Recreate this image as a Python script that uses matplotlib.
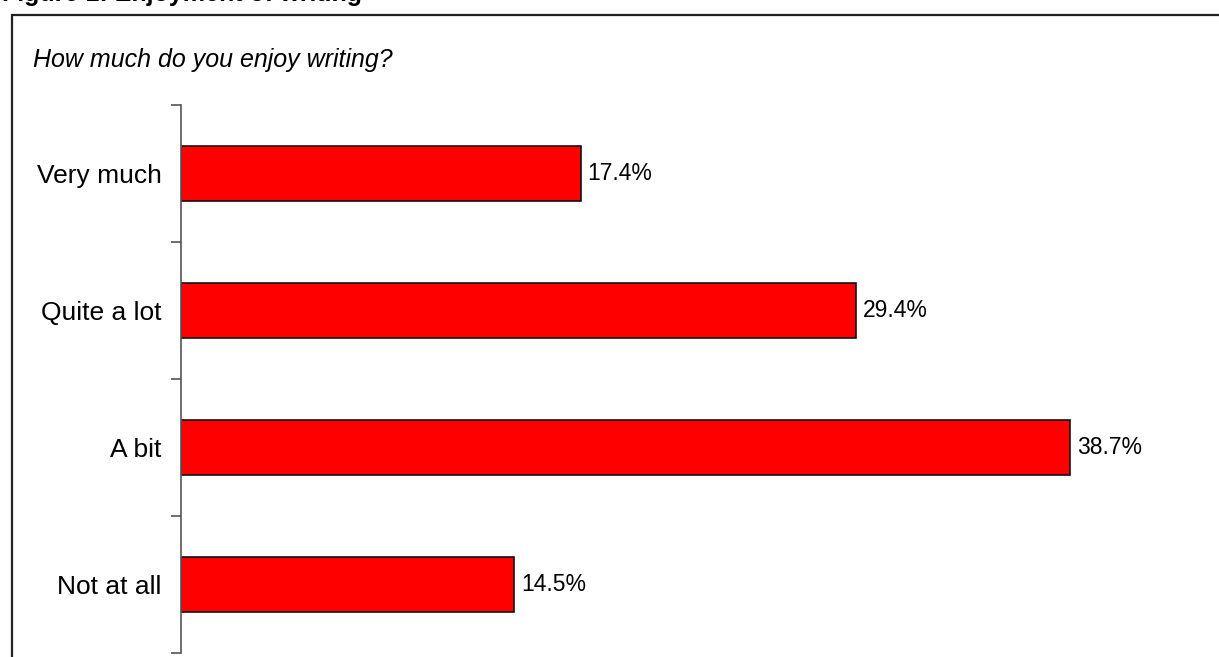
import matplotlib.pyplot as plt
from matplotlib.patches import Rectangle

plt.rcParams['font.family'] = ['Liberation Sans', 'DejaVu Sans']

categories = ['Very much', 'Quite a lot', 'A bit', 'Not at all']
values = [17.4, 29.4, 38.7, 14.5]
value_labels = ['17.4%', '29.4%', '38.7%', '14.5%']

W, H = 1219, 657
fig = plt.figure(figsize=(W / 100, H / 100), dpi=100)

# heading of the figure, mostly above the page edge
fig.text(2 / W, 1 - 1 / H, 'Figure 1: Enjoyment of writing', fontsize=18,
         fontweight='bold', ha='left', va='baseline')

# frame around the chart
fig.patches.append(Rectangle((12 / W, -0.05), 1.1, 1 - 15 / H + 0.05,
                             transform=fig.transFigure, fill=False,
                             edgecolor='#222222', linewidth=1.6))
fig.text(33 / W, 1 - 60 / H, 'How much do you enjoy writing?', fontsize=18,
         fontstyle='italic', ha='left', va='center')

# axes placed in pixels: x from 181, y spans 105..653
x0, x1 = 181, 181 + 45 * 22.97
y_top, y_bot = 105, 653
ax = fig.add_axes([x0 / W, 1 - y_bot / H, (x1 - x0) / W, (y_bot - y_top) / H])

pos = list(range(len(categories)))
ax.barh(pos, values, height=0.4, color='#ff0000', edgecolor='#111111', linewidth=1.2)
for p, v, lab in zip(pos, values, value_labels):
    ax.text(v + 0.3, p, lab, va='center', ha='left', fontsize=16.5)

ax.set_xlim(0, 45)
ax.set_ylim(len(categories) - 0.5, -0.5)
ax.set_yticks([p - 0.5 for p in pos] + [len(categories) - 0.5])
ax.set_yticklabels([])
ax.set_yticks(pos, minor=True)
ax.set_yticklabels(categories, minor=True, fontsize=19)
ax.tick_params(axis='y', which='major', length=7, color='#555555', width=1.2, direction='out')
ax.tick_params(axis='y', which='minor', length=0, pad=14)
ax.set_xticks([])
for s in ['top', 'right', 'bottom']:
    ax.spines[s].set_visible(False)
ax.spines['left'].set_color('#555555')
ax.spines['left'].set_linewidth(1.2)

fig.savefig('out.png', dpi=100)
